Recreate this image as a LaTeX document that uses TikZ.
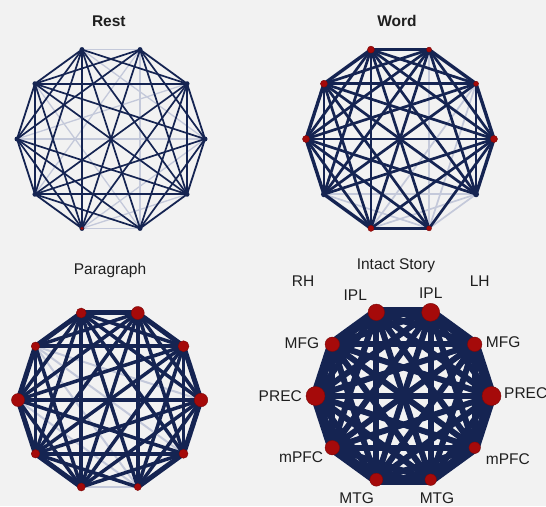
\documentclass[tikz,border=0pt]{standalone}
\usepackage{fontspec}
\setmainfont{Liberation Sans}
\definecolor{bg}{RGB}{242,242,242}
\definecolor{navy}{RGB}{21,36,82}
\definecolor{faint}{RGB}{196,201,218}
\definecolor{dotred}{RGB}{165,10,10}
\makeatletter
\newcommand\drawedges[5]{%
  \foreach \i in {0,...,9}{\foreach \j in {0,...,9}{%
    \ifnum\i<\j
      \edef\tmp{,\i-\j,}%
      \expandafter\in@\expandafter{\tmp}{#2}%
      \ifin@ \draw[#5] (#1\i) -- (#1\j); \fi
    \fi}}%
  \foreach \i in {0,...,9}{\foreach \j in {0,...,9}{%
    \ifnum\i<\j
      \edef\tmp{,\i-\j,}%
      \expandafter\in@\expandafter{\tmp}{#2}%
      \ifin@\else
        \pgfmathtruncatemacro\dd{\j-\i}%
        \ifnum\dd=1 \draw[#4] (#1\i) -- (#1\j);
        \else\ifnum\dd=9 \draw[#4] (#1\i) -- (#1\j);
        \else \draw[#3] (#1\i) -- (#1\j); \fi\fi
      \fi
    \fi}}%
}
\makeatother
\tikzset{
  lbl/.style={font=\fontsize{15.5}{18}\selectfont, text=black!88, inner sep=0pt},
  rdot/.style={circle, fill=dotred, draw=dotred!75!black, line width=0.4pt, inner sep=0pt, minimum size=#1},
  ndot/.style={circle, fill=navy, inner sep=0pt, minimum size=#1},
  lightedge/.style={faint, line width=1.4pt},
}
\begin{document}
\begin{tikzpicture}[x=1pt,y=-1pt]
\useasboundingbox (0,0) rectangle (546,506);
\clip (0,0) rectangle (546,506);
\fill[bg] (0,0) rectangle (546,506);
% vertex coordinates
\foreach \k [evaluate=\k as \a using -36*\k] in {0,...,9}{
  \coordinate (r\k) at ([shift={(111,139)}]\a:94);
  \coordinate (w\k) at ([shift={(400,139)}]\a:94);
  \coordinate (p\k) at ([shift={(109.5,400)}]\a:91.5);
  \coordinate (s\k) at ([shift={(403.5,396)}]\a:88);
}
% edges
\drawedges{r}{,2-3,7-8,0-5,2-8,2-6,7-9,0-7,1-5,4-8,0-3,}{navy, line width=1.7pt}{navy, line width=1.8pt}{lightedge, line width=1.3pt}
\drawedges{w}{,6-9,8-9,2-8,1-8,6-8,7-9,1-7,}{navy, line width=2.7pt}{navy, line width=3.4pt}{lightedge, line width=1.7pt}
\drawedges{p}{,4-9,5-8,7-8,0-4,4-8,}{navy, line width=3.5pt}{navy, line width=5pt}{lightedge, line width=2pt}
\drawedges{s}{,}{navy, line width=6pt}{navy, line width=10pt, line join=round}{lightedge}
% Rest dots
\foreach \k in {0,...,9}{\node[ndot=5pt] (rn\k) at (r\k) {};}
\node[rdot=3pt] (rn7b) at (r7) {};
% Word dots
\node[rdot=7pt] (wn0) at (w0) {};
\node[rdot=5pt] (wn1) at (w1) {};
\node[rdot=5pt] (wn2) at (w2) {};
\node[rdot=7pt] (wn3) at (w3) {};
\node[rdot=7pt] (wn4) at (w4) {};
\node[rdot=7pt] (wn5) at (w5) {};
\node[ndot=6pt] (wn6) at (w6) {};
\node[rdot=6pt] (wn7) at (w7) {};
\node[rdot=5pt] (wn8) at (w8) {};
\node[ndot=6pt] (wn9) at (w9) {};
% Paragraph dots
\node[rdot=13.5pt] (pn0) at (p0) {};
\node[rdot=11pt] (pn1) at (p1) {};
\node[rdot=13pt] (pn2) at (p2) {};
\node[rdot=10pt] (pn3) at (p3) {};
\node[rdot=8.5pt] (pn4) at (p4) {};
\node[rdot=13pt] (pn5) at (p5) {};
\node[rdot=8.5pt] (pn6) at (p6) {};
\node[rdot=8pt] (pn7) at (p7) {};
\node[rdot=7pt] (pn8) at (p8) {};
\node[rdot=9pt] (pn9) at (p9) {};
% Intact story dots
\node[rdot=19pt] (sn0) at (s0) {};
\node[rdot=14.5pt] (sn1) at (s1) {};
\node[rdot=18pt] (sn2) at (s2) {};
\node[rdot=16.5pt] (sn3) at (s3) {};
\node[rdot=14.5pt] (sn4) at (s4) {};
\node[rdot=19pt] (sn5) at (s5) {};
\node[rdot=14.5pt] (sn6) at (s6) {};
\node[rdot=13pt] (sn7) at (s7) {};
\node[rdot=11.5pt] (sn8) at (s8) {};
\node[rdot=11.5pt] (sn9) at (s9) {};
% titles
\node[lbl, anchor=base] (tRest) at (108.8,26) {\bfseries Rest};
\node[lbl, anchor=base] (tWord) at (397,26) {\bfseries Word};
\node[lbl, anchor=base] (tPara) at (110,274) {Paragraph};
\node[lbl, anchor=base] (tStory) at (396,269) {Intact Story};
\node[lbl, anchor=base] (tRH) at (303,286) {RH};
\node[lbl, anchor=base] (tLH) at (479.7,286) {LH};
% region labels
\node[lbl, anchor=base] (lIPLr) at (355.3,300) {IPL};
\node[lbl, anchor=base] (lIPLl) at (430.8,298.5) {IPL};
\node[lbl, anchor=base east] (lMFGr) at (319.3,348.3) {MFG};
\node[lbl, anchor=base west] (lMFGl) at (485.7,347) {MFG};
\node[lbl, anchor=base east] (lPRECr) at (302,401) {PREC};
\node[lbl, anchor=base west] (lPRECl) at (504,398.5) {PREC};
\node[lbl, anchor=base east] (lmPFCr) at (323.3,462) {mPFC};
\node[lbl, anchor=base west] (lmPFCl) at (485.7,464) {mPFC};
\node[lbl, anchor=base] (lMTGr) at (356.7,503.5) {MTG};
\node[lbl, anchor=base] (lMTGl) at (437,503.5) {MTG};
\end{tikzpicture}
\end{document}
